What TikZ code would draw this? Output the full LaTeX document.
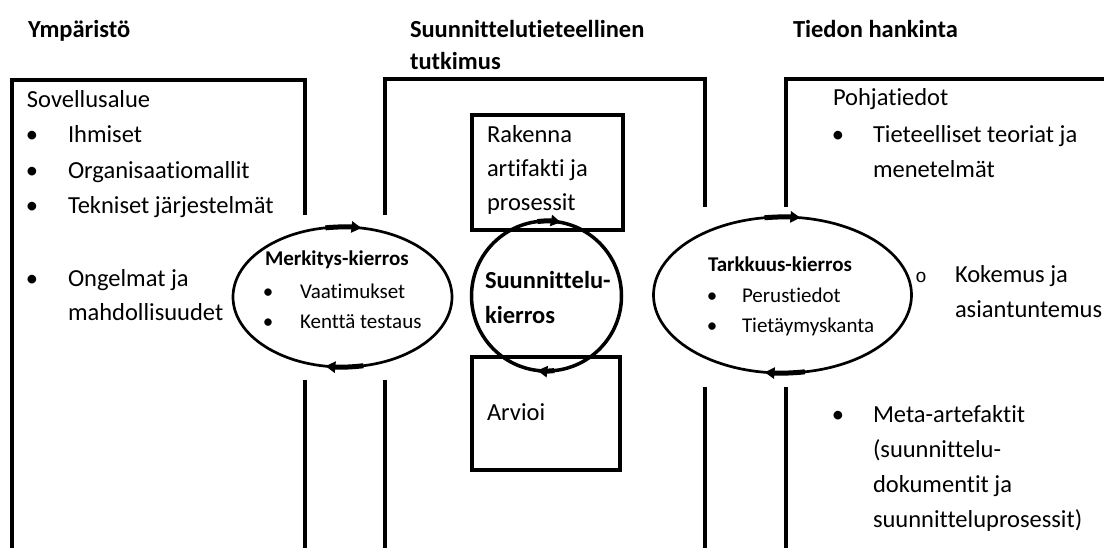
\documentclass[tikz,border=0pt]{standalone}
\usepackage{fontspec}
\setmainfont{Carlito}[Ligatures=NoCommon]
\newfontfamily\monofont{Liberation Mono}
\usetikzlibrary{shapes.geometric,arrows.meta}

\begin{document}
\begin{tikzpicture}[x=1pt,y=1pt,
  every node/.style={inner sep=0pt, outer sep=0pt},
  head/.style={anchor=base west, font=\fontsize{24.5}{29}\selectfont\bfseries},
  body/.style={anchor=base west, font=\fontsize{24.5}{29}\selectfont},
  dot/.style={anchor=base, font=\fontsize{24.5}{29}\selectfont},
  subdot/.style={anchor=base, font=\monofont\fontsize{19}{22}\selectfont},
  loophead/.style={anchor=base west, font=\fontsize{21}{25}\selectfont\bfseries},
  looptext/.style={anchor=base west, font=\fontsize{21}{25}\selectfont},
  loopdot/.style={anchor=base, font=\fontsize{21}{25}\selectfont},
  frame/.style={line width=4pt},
  stepbox/.style={draw, line width=4pt},
  loopring/.style={draw, ellipse, line width=2.7pt},
  cyclearrow/.style={line width=5pt, -{Triangle[length=10pt,width=11pt]}}
]
\useasboundingbox (0,0) rectangle (1104,-547);

% --- three column frames (open at the bottom) ---
\draw[frame] (305,-215) -- (305,-80) -- (12,-80) -- (12,-552);
\draw[frame] (305,-380) -- (305,-552);
\draw[frame] (385,-215) -- (385,-79) -- (705,-79) -- (705,-207);
\draw[frame] (385,-380) -- (385,-552);
\draw[frame] (705,-387) -- (705,-552);
\draw[frame] (786,-207) -- (786,-79) -- (1110,-79);
\draw[frame] (786,-387) -- (786,-552);

% --- headings ---
\node[head] (h1) at (28,-37) {Ympäristö};
\node[head] (h2a) at (410,-37) {Suunnittelutieteellinen};
\node[head] (h2b) at (410,-69) {tutkimus};
\node[head] (h3) at (793,-37) {Tiedon hankinta};

% --- environment column ---
\node[body] (env) at (27,-107) {Sovellusalue};
\node[dot] (e1d) at (32,-142) {•};
\node[body] (e1) at (68,-142) {Ihmiset};
\node[dot] (e2d) at (32,-178) {•};
\node[body] (e2) at (68,-178) {Organisaatiomallit};
\node[dot] (e3d) at (32,-213) {•};
\node[body] (e3) at (68,-213) {Tekniset järjestelmät};
\node[dot] (e4d) at (32,-286) {•};
\node[body] (e4a) at (68,-286) {Ongelmat ja};
\node[body] (e4b) at (68,-320) {mahdollisuudet};

% --- relevance cycle ---
\node[loopring, minimum width=219pt, minimum height=140pt] (rel) at (342.5,-297) {};
\node[loophead] (relt) at (265,-265) {Merkitys-kierros};
\node[loopdot] (r1d) at (268,-298) {•};
\node[looptext] (r1) at (300,-298) {Vaatimukset};
\node[loopdot] (r2d) at (268,-328) {•};
\node[looptext] (r2) at (300,-328) {Kenttä testaus};
\draw[cyclearrow] (rel.center) ++(99:109.5 and 70) arc[start angle=99, end angle=80, x radius=109.5, y radius=70];
\draw[cyclearrow] (rel.center) ++(281:109.5 and 70) arc[start angle=281, end angle=261, x radius=109.5, y radius=70];

% --- design cycle ---
\node[stepbox, minimum width=151pt, minimum height=115pt] (build) at (547.5,-172.5) {};
\node[body] (b1) at (487,-142) {Rakenna};
\node[body] (b2) at (487,-176) {artifakti ja};
\node[body] (b3) at (487,-210) {prosessit};
\node[stepbox, minimum width=148pt, minimum height=113pt] (eval) at (546,-413.5) {};
\node[body] (ev) at (487,-420) {Arvioi};
\node[draw, circle, line width=3.5pt, minimum size=150pt] (design) at (546.5,-296) {};
\node[head] (d1) at (485,-288) {Suunnittelu-};
\node[head] (d2) at (485,-323) {kierros};
\draw[cyclearrow] (design.center) ++(97:75) arc[start angle=97, end angle=79, radius=75];
\draw[cyclearrow] (design.center) ++(276:75) arc[start angle=276, end angle=263, radius=75];

% --- rigor cycle ---
\node[loopring, minimum width=258pt, minimum height=156pt] (rig) at (782.5,-295) {};
\node[loophead] (rigt) at (708,-271) {Tarkkuus-kierros};
\node[loopdot] (g1d) at (712,-302) {•};
\node[looptext] (g1) at (742,-302) {Perustiedot};
\node[loopdot] (g2d) at (712,-332) {•};
\node[looptext] (g2) at (742,-332) {Tietäymyskanta};
\draw[cyclearrow] (rig.center) ++(98:129 and 78) arc[start angle=98, end angle=82, x radius=129, y radius=78];
\draw[cyclearrow] (rig.center) ++(280:129 and 78) arc[start angle=280, end angle=262, x radius=129, y radius=78];

% --- knowledge base column ---
\node[body] (kb) at (833,-105) {Pohjatiedot};
\node[dot] (k1d) at (838,-142) {•};
\node[body] (k1a) at (873,-142) {Tieteelliset teoriat ja};
\node[body] (k1b) at (873,-177) {menetelmät};
\node[subdot] (k2d) at (921,-282) {o};
\node[body] (k2a) at (955,-282) {Kokemus ja};
\node[body] (k2b) at (955,-317) {asiantuntemus};
\node[dot] (k3d) at (838,-422) {•};
\node[body] (k3a) at (873,-422) {Meta-artefaktit};
\node[body] (k3b) at (873,-457) {(suunnittelu-};
\node[body] (k3c) at (873,-492) {dokumentit ja};
\node[body] (k3d) at (873,-527) {suunnitteluprosessit)};
\end{tikzpicture}
\end{document}
